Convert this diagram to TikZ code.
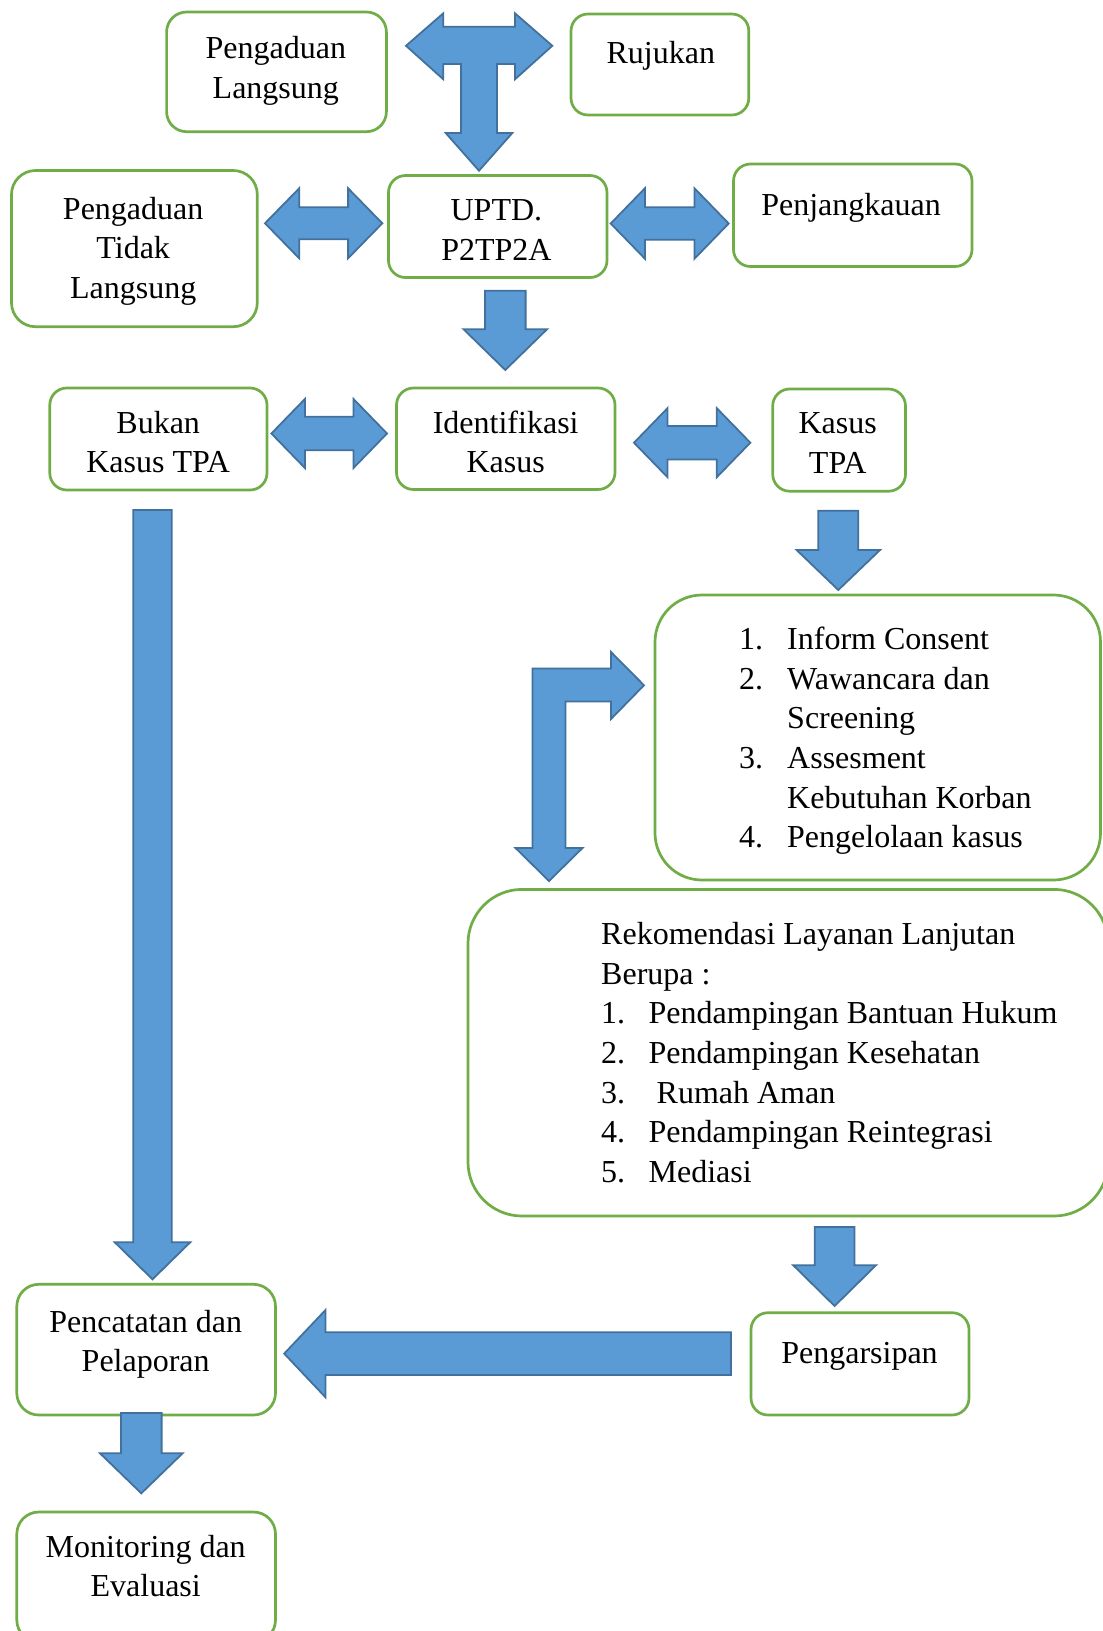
\documentclass[tikz,border=0pt]{standalone}
\usepackage{fontspec}
\setmainfont{Liberation Serif}
\definecolor{arrfill}{HTML}{5B9BD5}
\definecolor{arrline}{HTML}{41719C}
\definecolor{boxline}{HTML}{70AD47}
\tikzset{
  box/.style={draw=boxline, line width=2.7pt, fill=white, inner sep=0pt, rectangle},
  blk/.style={fill=arrfill, draw=arrline, line width=1.8pt, line join=miter},
  txt/.style={inner sep=0pt, anchor=north, font=\fontsize{32}{39.6}\selectfont},
  ltxt/.style={inner sep=0pt, anchor=north west, font=\fontsize{32}{39.6}\selectfont},
}
% box: name x1 y1 x2 y2 radius
\newcommand\bx[6]{\node[box, rounded corners=#6pt, minimum width={#4-#2}, minimum height={#5-#3}] (#1) at ({(#2+#4)/2},{(#3+#5)/2}) {};}
% horizontal double arrow: xl xr yc shafthalf headhalf headlen
\newcommand\harr[6]{\draw[blk] (#1,#3) -- ({#1+#6},{#3-#5}) -- ({#1+#6},{#3-#4}) -- ({#2-#6},{#3-#4}) -- ({#2-#6},{#3-#5}) -- (#2,#3) -- ({#2-#6},{#3+#5}) -- ({#2-#6},{#3+#4}) -- ({#1+#6},{#3+#4}) -- ({#1+#6},{#3+#5}) -- cycle;}
% vertical down arrow: xc ytop ybase ytip shafthalf headhalf
\newcommand\varr[6]{\draw[blk] ({#1-#5},#2) -- ({#1+#5},#2) -- ({#1+#5},#3) -- ({#1+#6},#3) -- (#1,#4) -- ({#1-#6},#3) -- ({#1-#5},#3) -- cycle;}
\begin{document}
\begin{tikzpicture}[x=1pt,y=-1pt]
\useasboundingbox (0,0) rectangle (1103,1631);
\fill[white] (0,0) rectangle (1103,1631);
\clip (0,0) rectangle (1103,1631);

% boxes
\bx{pl}{166.6}{12}{386.4}{131.7}{20}
\bx{ruj}{571}{14}{748.8}{115}{17}
\bx{ptl}{11.5}{170.5}{257.3}{326.7}{24}
\bx{uptd}{388.5}{175.5}{607}{277.5}{17}
\bx{penj}{733.5}{164}{972}{266.5}{17}
\bx{bukan}{49.8}{388}{267}{490}{17}
\bx{ident}{396.5}{388}{615}{489.5}{17}
\bx{kasus}{772.7}{389}{905.5}{491.2}{17}
\bx{list}{655}{595}{1100.5}{880}{47}
\bx{rek}{468}{889.4}{1108}{1216}{54}
\bx{catat}{16.8}{1284.3}{275.5}{1415}{22}
\bx{arsip}{751}{1312.7}{969}{1415}{17}
\bx{monev}{16.8}{1512}{275.5}{1642}{22}

% texts
\node[txt] (tpl) at (275.8,{58.3-27.72}) {\begin{tabular}{@{}c@{}}Pengaduan\\Langsung\end{tabular}};
\node[txt] (truj) at (660.8,{63.5-27.72}) {\begin{tabular}{@{}c@{}}Rujukan\end{tabular}};
\node[txt] (tptl) at (133.2,{218.8-27.72}) {\begin{tabular}{@{}c@{}}Pengaduan\\Tidak\\Langsung\end{tabular}};
\node[txt] (tuptd) at (496.4,{220.5-27.72}) {\begin{tabular}{@{}c@{}}UPTD.\\P2TP2A\end{tabular}};
\node[txt] (tpenj) at (851,{215-27.72}) {\begin{tabular}{@{}c@{}}Penjangkauan\end{tabular}};
\node[txt] (tbukan) at (158.2,{433-27.72}) {\begin{tabular}{@{}c@{}}Bukan\\Kasus TPA\end{tabular}};
\node[txt] (tident) at (505.7,{433-27.72}) {\begin{tabular}{@{}c@{}}Identifikasi\\Kasus\end{tabular}};
\node[txt] (tkasus) at (837.7,{433.5-27.72}) {\begin{tabular}{@{}c@{}}Kasus\\TPA\end{tabular}};
\node[txt] (tcatat) at (145.7,{1332-27.72}) {\begin{tabular}{@{}c@{}}Pencatatan dan\\Pelaporan\end{tabular}};
\node[txt] (tarsip) at (859.5,{1363.5-27.72}) {\begin{tabular}{@{}c@{}}Pengarsipan\end{tabular}};
\node[txt] (tmonev) at (145.7,{1557-27.72}) {\begin{tabular}{@{}c@{}}Monitoring dan\\Evaluasi\end{tabular}};

\node[ltxt] (tlist) at (739,{649.5-27.72}) {\begin{tabular}{@{}p{48pt}@{}l@{}}
1. & Inform Consent\\
2. & Wawancara dan\\
   & Screening\\
3. & Assesment\\
   & Kebutuhan Korban\\
4. & Pengelolaan kasus
\end{tabular}};
\node[ltxt] (trek) at (601,{944.5-27.72}) {\begin{tabular}{@{}p{47.5pt}@{}l@{}}
\multicolumn{2}{@{}l@{}}{Rekomendasi Layanan Lanjutan}\\
\multicolumn{2}{@{}l@{}}{Berupa :}\\
1. & Pendampingan Bantuan Hukum\\
2. & Pendampingan Kesehatan\\
3. & \hspace{8pt}Rumah Aman\\
4. & Pendampingan Reintegrasi\\
5. & Mediasi
\end{tabular}};

% T arrow at top
\draw[blk] (406,45.8) -- (443.3,13.3) -- (443.3,26.7) -- (515,26.7) -- (515,13.3) -- (552.3,45.8)
  -- (515,79.3) -- (515,64) -- (497,64) -- (497,133) -- (512.3,133) -- (479,170.7)
  -- (445.7,133) -- (461,133) -- (461,64) -- (443.3,64) -- (443.3,79.3) -- cycle;

% double arrows
\harr{265}{382.3}{223.3}{16}{35}{34.2}
\harr{610.7}{728.7}{223.5}{16.3}{35.3}{34.3}
\harr{271.4}{387}{433.5}{16.7}{34.5}{33.5}
\harr{634}{750.3}{442.7}{16.7}{34.5}{33.5}

% down arrows
\varr{505.3}{290.7}{329.3}{370}{20.3}{41.7}
\varr{838.3}{510.7}{550}{590}{20}{41.7}
\varr{152.5}{510}{1242.3}{1279.3}{19.2}{37.7}
\varr{141.3}{1413}{1453.3}{1493.3}{20.3}{41.3}
\varr{834.6}{1227}{1265.2}{1306}{19.8}{41.4}

% L arrow
\draw[blk] (549,881) -- (582.5,848) -- (565.5,848) -- (565.5,701.5) -- (611,701.5) -- (611,719)
  -- (644,685.3) -- (611,652) -- (611,668.5) -- (532.5,668.5) -- (532.5,848) -- (515.5,848) -- cycle;

% big left arrow
\draw[blk] (284.2,1353.6) -- (325.5,1310) -- (325.5,1332.3) -- (731,1332.3) -- (731,1375)
  -- (325.5,1375) -- (325.5,1397.3) -- cycle;
\end{tikzpicture}
\end{document}
